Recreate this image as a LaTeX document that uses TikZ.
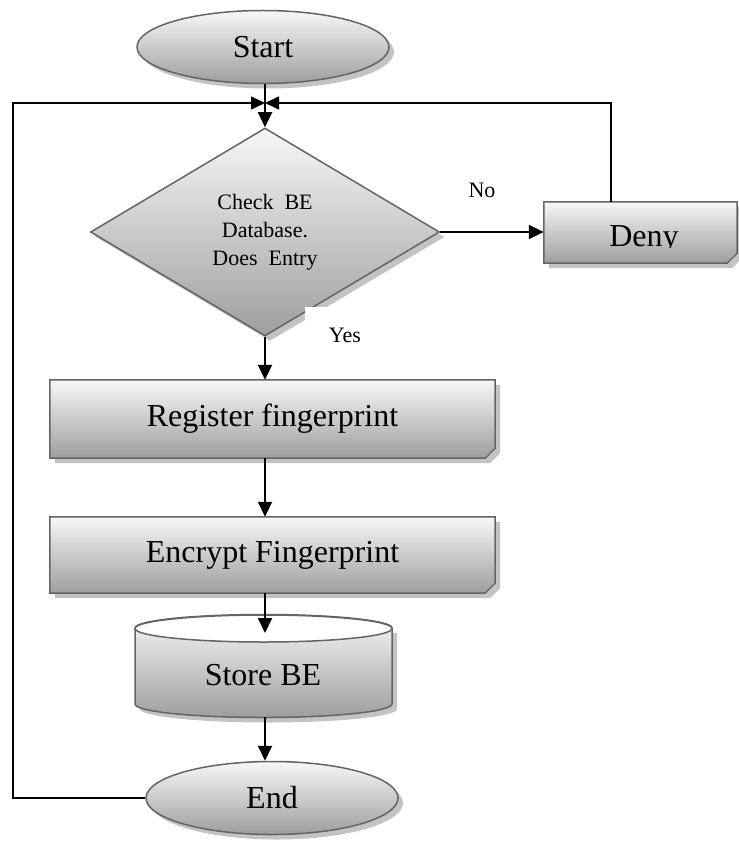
\documentclass[tikz,border=0pt]{standalone}
\usepackage{fontspec}
\setmainfont{Liberation Serif}
\usetikzlibrary{shapes.geometric,arrows.meta,shadows}

\definecolor{lightg}{RGB}{247,247,247}
\definecolor{darkg}{RGB}{158,158,158}
\definecolor{edgeg}{RGB}{100,100,100}
\definecolor{shadg}{RGB}{195,195,195}

\newcommand\bigtxt{\fontsize{32}{38}\selectfont}
\newcommand\smalltxt{\fontsize{22}{28}\selectfont}

\pgfdeclarelayer{bg}
\pgfsetlayers{bg,main}

\tikzset{
  shapebase/.style={draw=edgeg, line width=1.5pt, top color=lightg, bottom color=darkg},
  softshadow/.style={drop shadow={shadow xshift=5pt, shadow yshift=-5pt, fill=shadg, opacity=1}},
  termnode/.style={shapebase, softshadow, ellipse, inner sep=0pt,
    minimum width=252pt, minimum height=73pt, font=\bigtxt},
  decnode/.style={shapebase, softshadow, diamond, inner sep=0pt, align=center,
    minimum width=349pt, minimum height=208pt, font=\smalltxt},
  procbox/.style={rectangle, inner sep=0pt, font=\bigtxt},
  conn/.style={line width=2pt, -{Triangle[length=15pt,width=14pt]}},
  loopline/.style={line width=1.6pt, -{Triangle[length=14pt,width=13pt]}},
  lbl/.style={font=\smalltxt, inner sep=0pt}
}

% Process box with a folded bottom-right corner, drawn behind its text
\newcommand\cardbox[1]{%
  \begin{pgfonlayer}{bg}
    \fill[shadg] ([shift={(5,5)}]#1.north west) -- ([shift={(5,5)}]#1.north east)
      -- ([shift={(5,-5)}]#1.south east) -- ([shift={(-5,5)}]#1.south east)
      -- ([shift={(5,5)}]#1.south west) -- cycle;
    \path[shapebase] (#1.north west) -- (#1.north east)
      -- ([shift={(0,-10)}]#1.south east) -- ([shift={(-10,0)}]#1.south east)
      -- (#1.south west) -- cycle;
    \fill[edgeg!85] ([shift={(0,-10)}]#1.south east) -- ([shift={(-10,0)}]#1.south east)
      -- ([shift={(-3,-8)}]#1.south east) -- cycle;
  \end{pgfonlayer}}

\begin{document}
\begin{tikzpicture}[x=1pt,y=-1pt]
\useasboundingbox (0,0) rectangle (738,842);

\coordinate (join) at (265,103);
\coordinate (lc) at (13,103);

% terminals and decision
\node[termnode] (start) at (263,47) {Start};
\node[decnode] (dia) at (265,232) {Check\ \ BE\\Database.\\Does\ \ Entry};

% label patch below the decision
\node[fill=white, inner sep=0pt, minimum width=80pt, minimum height=48pt, anchor=north west]
  (yesbox) at (305,307) {};
\node[lbl] (yes) at (345,335) {Yes};
\node[lbl] (no) at (482,190) {No};

% process boxes
\node[procbox, minimum width=193pt, minimum height=61pt] (deny) at (640.5,232.5) {};
\cardbox{deny}
\begin{scope}
  \clip (540,195) rectangle (738,247);
  \node[font=\bigtxt, inner sep=0pt, anchor=base] (denytxt) at (644,246) {Deny};
\end{scope}

\node[procbox, minimum width=445pt, minimum height=78pt] (reg) at (272.5,419) {Register fingerprint};
\cardbox{reg}
\node[procbox, minimum width=445pt, minimum height=76pt] (enc) at (272.5,555) {Encrypt Fingerprint};
\cardbox{enc}

% database cylinder
\begin{pgfonlayer}{bg}
  \fill[shadg] (140,633) -- (140,709)
    arc[start angle=180, end angle=360, x radius=128.5pt, y radius=13.5pt]
    -- (397,633) -- cycle;
  \path[shapebase] (135,628) -- (135,704)
    arc[start angle=180, end angle=360, x radius=128.5pt, y radius=13.5pt]
    -- (392,628)
    arc[start angle=0, end angle=180, x radius=128.5pt, y radius=13.5pt] -- cycle;
  \draw[draw=edgeg, line width=1.5pt, fill=white] (263.5,628.5)
    ellipse[x radius=128.5pt, y radius=13.5pt];
\end{pgfonlayer}
\node[procbox] (store) at (263,675) {Store BE};
\coordinate (storetop) at (265,633);
\coordinate (storebot) at (265,717);

\node[termnode] (stop) at (272,798) {End};

% connectors
\draw[conn] (start.south -| join) -- (dia.north);
\draw[conn] (dia.east) -- (dia.east -| deny.west);
\draw[conn] (dia.south) -- (dia.south |- reg.north);
\draw[conn] (reg.south -| dia.south) -- (enc.north -| dia.south);
\draw[conn] (enc.south -| dia.south) -- (storetop);
\draw[conn] (storebot) -- (storebot |- stop.north);

% feedback lines
\draw[loopline] (stop.west) -| (lc) -- (join);
\draw[loopline] ([xshift=-29.5pt]deny.north) |- (join);
\end{tikzpicture}
\end{document}
